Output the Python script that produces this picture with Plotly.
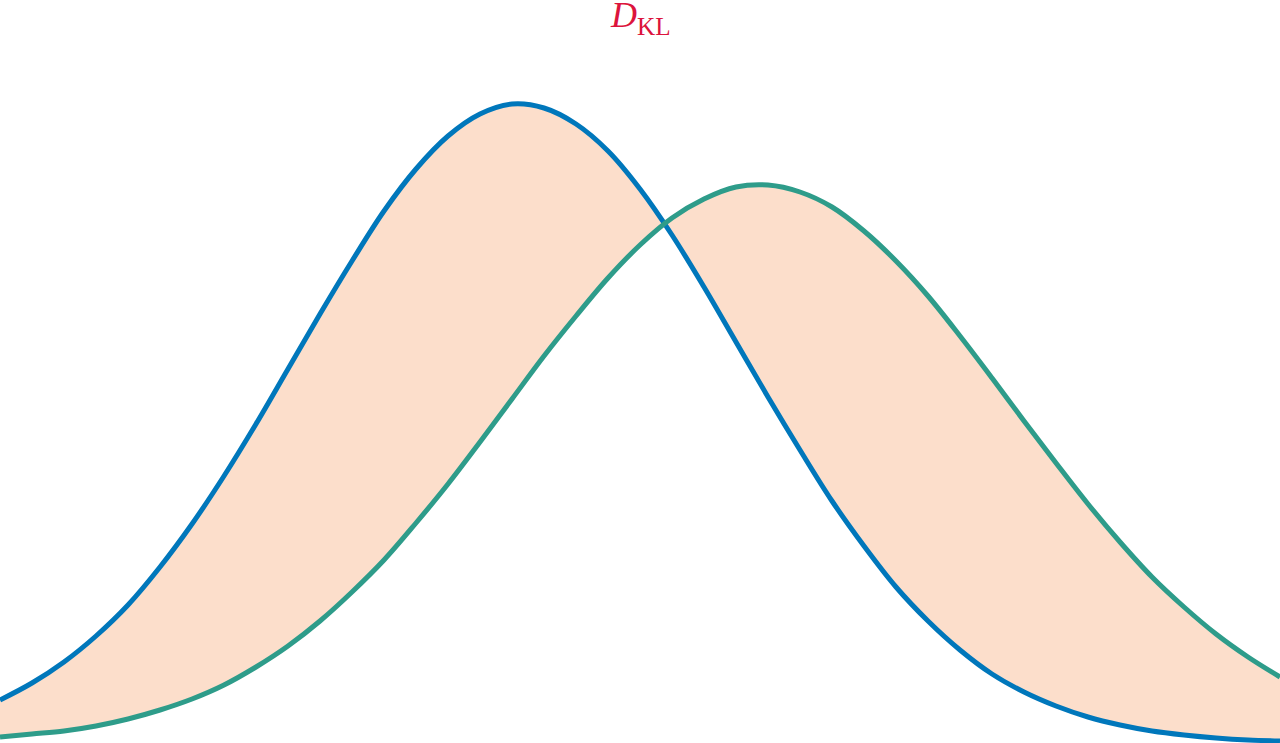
import plotly.graph_objects as go

# Curve samples: x position and the curve's pixel row (from top)
x_pos = [0, 32, 64, 96, 128, 160, 192, 224, 256, 288, 320, 352, 384, 416, 448, 480,
         512, 544, 576, 608, 640, 672, 704, 736, 768, 800, 832, 864, 896, 928, 960,
         992, 1024, 1056, 1088, 1120, 1152, 1184, 1216, 1248, 1280]
blue_ypix = [700, 683, 662, 636, 605, 567, 524, 476, 424, 369, 314, 261, 211, 169, 136, 114,
             104, 108, 124, 151, 189, 235, 287, 342, 397, 450, 501, 546, 587, 621, 650,
             674, 692, 706, 717, 725, 731, 735, 738, 740, 741]
green_ypix = [737, 734, 731, 726, 719, 710, 699, 685, 667, 646, 621, 592, 560, 523, 484, 442,
              399, 356, 316, 278, 245, 218, 199, 187, 185, 192, 207, 231, 261, 296, 336,
              378, 421, 463, 504, 542, 577, 607, 634, 657, 677]

H = 743
blue_y = [H - v for v in blue_ypix]
green_y = [H - v for v in green_ypix]

title_text = "<i>D</i><sub>KL</sub>"

BLUE = "#0077BB"
GREEN = "#2E9C8A"
FILL = "#FCDECB"
RED = "#DC143C"

fig = go.Figure()
# fill region between the two curves
fig.add_trace(go.Scatter(x=x_pos, y=blue_y, mode="lines",
                         line=dict(width=0, shape="spline", smoothing=1, color=BLUE),
                         hoverinfo="skip", showlegend=False))
fig.add_trace(go.Scatter(x=x_pos, y=green_y, mode="lines", fill="tonexty",
                         fillcolor=FILL,
                         line=dict(width=0, shape="spline", smoothing=1, color=GREEN),
                         hoverinfo="skip", showlegend=False))
# visible curves
fig.add_trace(go.Scatter(x=x_pos, y=blue_y, mode="lines",
                         line=dict(width=5, shape="spline", smoothing=1, color=BLUE),
                         showlegend=False))
fig.add_trace(go.Scatter(x=x_pos, y=green_y, mode="lines",
                         line=dict(width=5, shape="spline", smoothing=1, color=GREEN),
                         showlegend=False))

fig.add_annotation(text=title_text, x=0.5, y=1 - 18 / H, xref="paper", yref="paper",
                   xanchor="center", yanchor="middle", showarrow=False,
                   font=dict(family="Liberation Serif, DejaVu Serif, serif", size=36, color=RED))

fig.update_layout(
    width=1280, height=743,
    margin=dict(l=0, r=0, t=0, b=0),
    paper_bgcolor="white", plot_bgcolor="white",
    xaxis=dict(range=[0, 1280], visible=False, fixedrange=True),
    yaxis=dict(range=[0, H], visible=False, fixedrange=True),
)

fig.write_html("out.html", config={"displayModeBar": False},
               post_script="document.body.style.margin='0px';document.body.style.overflow='hidden';")
